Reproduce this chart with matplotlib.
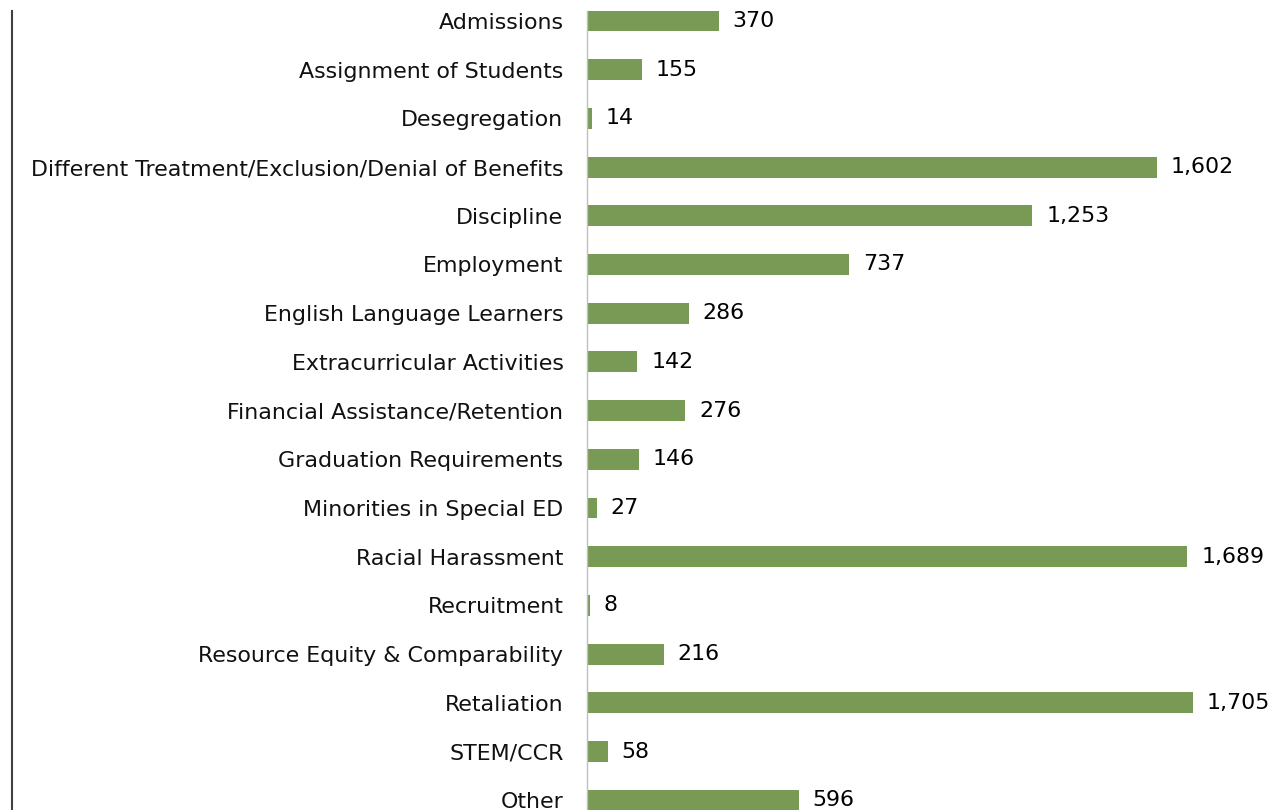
import matplotlib.pyplot as plt
from matplotlib.lines import Line2D

categories = [
    "Admissions",
    "Assignment of Students",
    "Desegregation",
    "Different Treatment/Exclusion/Denial of Benefits",
    "Discipline",
    "Employment",
    "English Language Learners",
    "Extracurricular Activities",
    "Financial Assistance/Retention",
    "Graduation Requirements",
    "Minorities in Special ED",
    "Racial Harassment",
    "Recruitment",
    "Resource Equity & Comparability",
    "Retaliation",
    "STEM/CCR",
    "Other",
]
complaints = [370, 155, 14, 1602, 1253, 737, 286, 142, 276, 146, 27, 1689, 8, 216, 1705, 58, 596]

bar_color = "#789a55"
font_size = 15.9

fig = plt.figure(figsize=(12.8, 8.1), dpi=100)
W, H = 1280, 810
ax_left, ax_top = 587, 11
ax = fig.add_axes([ax_left / W, 0, (W - ax_left) / W, (H - ax_top) / H])

positions = list(range(len(categories)))
ax.barh(positions, complaints, height=0.43, color=bar_color)

px_per_unit = 0.3555
ax.set_xlim(0, (W - ax_left) / px_per_unit)
row = 48.7
ax.set_ylim((H - 21) / row, -(21 - ax_top) / row)

for y, v in zip(positions, complaints):
    ax.annotate(f"{v:,}", xy=(v, y), xytext=(10, 0), textcoords="offset points",
                va="center", ha="left", fontsize=font_size, color="black")

ax.set_yticks(positions)
ax.set_yticklabels(categories, fontsize=font_size, color="#111111")
ax.tick_params(axis="y", length=0, pad=17)
ax.set_xticks([])
for side in ["top", "right", "bottom"]:
    ax.spines[side].set_visible(False)
ax.spines["left"].set_color("#bfbfbf")
ax.spines["left"].set_linewidth(1)

fig.add_artist(Line2D([11.5 / W, 11.5 / W], [0, 1 - 11 / H], transform=fig.transFigure,
                      color="#404040", linewidth=1.5))

fig.savefig("out.png", dpi=100)
